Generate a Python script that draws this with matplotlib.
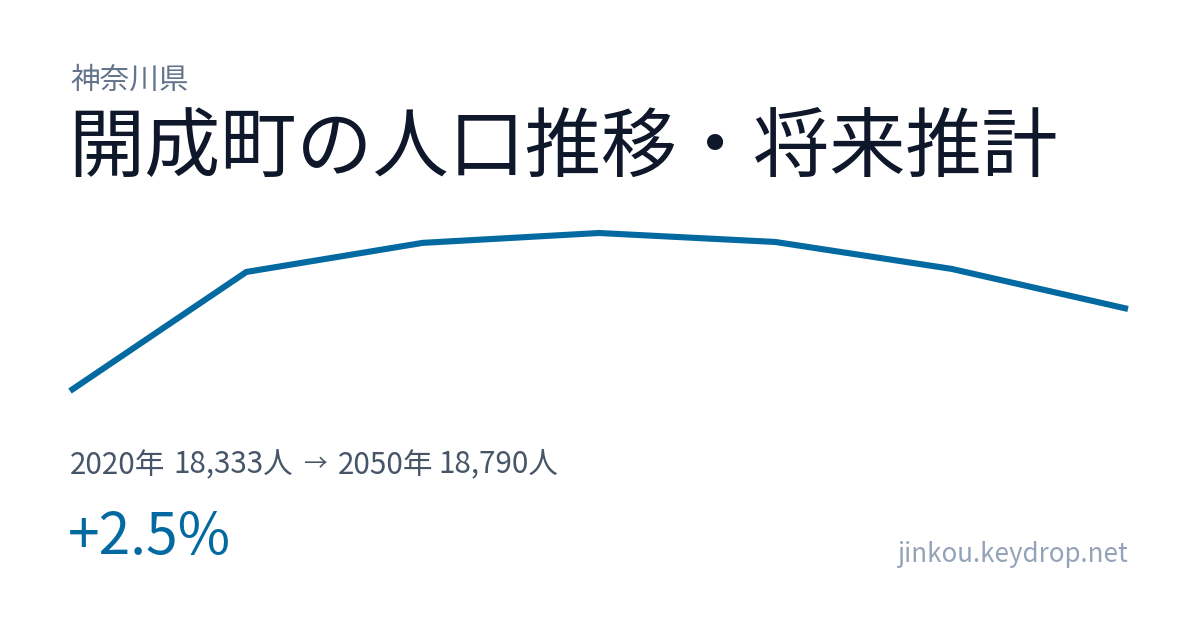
import matplotlib.pyplot as plt

plt.rcParams["font.family"] = ["Noto Sans CJK JP", "DejaVu Sans"]

years = [2020, 2025, 2030, 2035, 2040, 2045, 2050]
population = [18333, 18996, 19158, 19213, 19163, 19013, 18790]

prefecture = "神奈川県"
title = "開成町の人口推移・将来推計"
summary_parts = ["2020年", "18,333人", "→", "2050年", "18,790人"]
summary_x = [70, 173, 303, 338, 438]
change = "+2.5%"
site = "jinkou.keydrop.net"

W, H = 1200, 630
fig = plt.figure(figsize=(W / 100, H / 100), dpi=100)
fig.patch.set_facecolor("white")

# line area in pixel coords: x 70..1128, y 233..391
ax = fig.add_axes([70 / W, 1 - 391 / H, 1058 / W, 158 / H])
ax.plot(years, population, color="#0369a1", linewidth=4.4, clip_on=False,
        solid_capstyle="butt", solid_joinstyle="miter")
ax.set_xlim(years[0], years[-1])
ax.set_ylim(min(population), max(population))
ax.axis("off")


def px(x, y):
    return x / W, 1 - y / H


fig.text(*px(70, 80), prefecture, fontsize=21.3, color="#64748b", va="center")
fig.text(*px(68, 150), title, fontsize=54.8, color="#0f172a", va="center")
for part, x in zip(summary_parts, summary_x):
    # the arrow glyph is wider in this font, so draw it a bit smaller
    size = 17 if part == "→" else 21.3
    fig.text(*px(x, 465), part, fontsize=size, color="#475569", va="center")
fig.text(*px(68, 538), change, fontsize=41, color="#0369a1", va="center")
fig.text(*px(1128, 555), site, fontsize=18.7, color="#94a3b8", va="center", ha="right")

fig.savefig("out.png", dpi=100)
